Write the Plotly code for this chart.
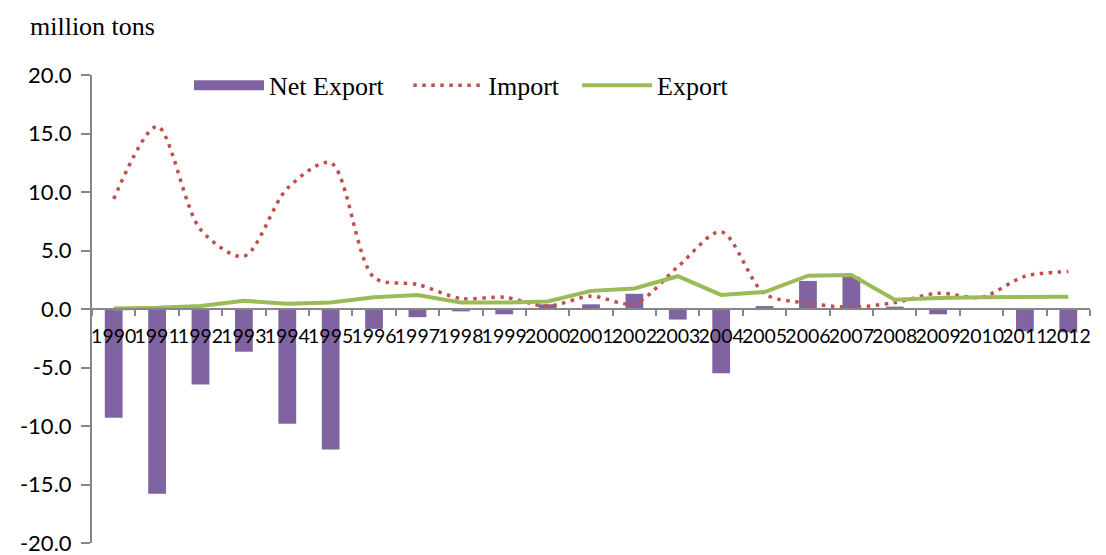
import plotly.graph_objects as go

years = [str(y) for y in range(1990, 2013)]
imports = [9.4, 15.6, 6.8, 4.5, 10.3, 12.5, 2.7, 2.1, 0.9, 1.0, 0.25, 1.1, 0.45,
           3.6, 6.6, 1.3, 0.5, 0.15, 0.55, 1.35, 1.0, 2.8, 3.2]
exports = [0.05, 0.1, 0.25, 0.7, 0.45, 0.55, 1.0, 1.2, 0.55, 0.55, 0.65, 1.55, 1.75,
           2.8, 1.2, 1.45, 2.85, 2.9, 0.8, 0.95, 1.0, 1.0, 1.05]
net_export = [-9.3, -15.8, -6.45, -3.65, -9.8, -12.0, -1.7, -0.7, -0.2, -0.45, 0.4, 0.4, 1.3,
              -0.9, -5.5, 0.25, 2.4, 2.75, 0.2, -0.45, -0.05, -1.9, -2.0]
y_ticks = [-20, -15, -10, -5, 0, 5, 10, 15, 20]
y_tick_labels = [f"{v:.1f}" for v in y_ticks]

PURPLE = "#8064A2"
RED = "#C0504D"
GREEN = "#9BBB59"
AXIS = "#868686"
NBSP = "\u00a0"

fig = go.Figure()
fig.add_trace(go.Bar(x=years, y=net_export, marker=dict(color=PURPLE, line=dict(width=0)),
                     width=0.41, showlegend=False, name="Net Export"))
fig.add_trace(go.Scatter(x=years, y=imports, mode="lines", name="Import", showlegend=False,
                         line=dict(color=RED, width=3.5, dash="3.5px,5.5px", shape="spline", smoothing=0.85)))
fig.add_trace(go.Scatter(x=years, y=exports, mode="lines", name="Export", showlegend=False,
                         line=dict(color=GREEN, width=4)))

# legend proxies
fig.add_trace(go.Scatter(x=[None], y=[None], mode="lines", name="Net Export" + NBSP * 3,
                         line=dict(color=PURPLE, width=14)))
fig.add_trace(go.Scatter(x=[None], y=[None], mode="lines", name="Import" + NBSP * 2,
                         line=dict(color=RED, width=3.5, dash="3.5px,5.5px")))
fig.add_trace(go.Scatter(x=[None], y=[None], mode="lines", name="Export",
                         line=dict(color=GREEN, width=4)))

fig.update_layout(
    width=1106, height=555,
    margin=dict(l=92, r=16, t=75, b=12, autoexpand=False),
    paper_bgcolor="white", plot_bgcolor="white",
    font=dict(family="Lato", size=22, color="black"),
    legend=dict(orientation="h", x=0.0972, xanchor="left", y=0.978, yanchor="middle",
                font=dict(family="Liberation Serif", size=26, color="black"),
                itemwidth=70, bgcolor="rgba(0,0,0,0)"),
    annotations=[dict(text="million tons", xref="paper", yref="paper", x=-0.0641, y=1.103,
                      xanchor="left", yanchor="middle", showarrow=False,
                      font=dict(family="Liberation Serif", size=26, color="black"))],
)
fig.update_xaxes(type="category", range=[-0.5, 22.5], anchor="free", position=0.5,
                 automargin=False,
                 showline=True, linecolor=AXIS, linewidth=2, ticks="outside", tickson="boundaries",
                 ticklen=6, tickcolor=AXIS, tickwidth=1.5, tickangle=0, tickmode="array",
                 tickvals=years, ticktext=years, showgrid=False, zeroline=False,
                 ticklabelstandoff=10,
                 tickfont=dict(family="Lato", size=19.5, color="black"))
fig.update_yaxes(range=[-20, 20], tickmode="array", tickvals=y_ticks, ticktext=y_tick_labels,
                 automargin=False,
                 showline=True, linecolor=AXIS, linewidth=2, ticks="outside", ticklen=9,
                 tickcolor=AXIS, tickwidth=1.5, showgrid=False, zeroline=False,
                 ticklabelstandoff=5, ticklabeloverflow="allow",
                 tickfont=dict(family="Lato", size=22, color="black"))

fig.write_html("out.html")
